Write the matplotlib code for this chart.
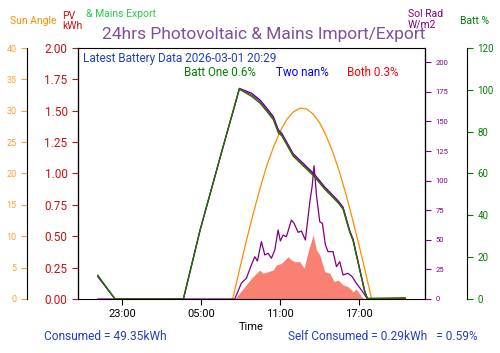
import matplotlib
matplotlib.use("Agg")
import matplotlib.pyplot as plt
import numpy as np

plt.rcParams['font.family'] = ['Roboto', 'DejaVu Sans']

# hours since midnight of day 1 (23 = 23:00, 29 = 05:00 next day ...)
batt_t = [21.16, 22.47, 27.66, 28.93, 30.67, 31.91, 32.85, 33.48, 33.99, 34.49, 34.87, 35.13,
          35.99, 37.58, 38.4, 39.4, 39.78, 40.29, 40.54, 41.05, 41.43, 41.63, 44.5]
batt_two = [10.7, 0.0, 0.0, 33.0, 72.7, 100.7, 98.3, 95.1, 91.2, 87.2, 80.8, 79.2,
            69.5, 59.8, 53.5, 47.0, 43.9, 32.6, 28.6, 14.2, 3.7, 0.2, 0.0]
batt_both = [11.0, 0.0, 0.0, 33.0, 72.7, 100.5, 97.5, 94.3, 90.4, 86.4, 80.0, 78.6,
             68.9, 59.2, 53.0, 46.5, 43.4, 32.2, 28.2, 13.9, 3.5, 0.2, 0.3]
batt_one = [11.4, 0.0, 0.0, 33.0, 72.7, 100.3, 96.8, 93.6, 89.7, 85.7, 79.3, 78.0,
            68.3, 58.6, 52.4, 46.0, 42.9, 31.8, 27.8, 13.6, 3.3, 0.3, 0.6]

sun_t = [31.4, 31.5, 32.0, 32.5, 33.0, 33.5, 34.0, 34.5, 35.0, 35.5, 36.0, 36.5, 37.0,
         37.5, 38.0, 38.5, 39.0, 39.5, 40.0, 40.5, 41.0, 41.5, 41.95]
sun_angle = [0.0, 0.9, 5.4, 9.8, 13.9, 17.8, 21.3, 24.2, 26.7, 28.6, 29.8, 30.4, 30.3,
             29.5, 28.1, 26.0, 23.4, 20.3, 16.7, 12.7, 8.5, 4.1, 0.0]

rad_t = [21.16, 31.56, 32.06, 32.44, 32.82, 33.08, 33.28, 33.58, 33.84, 34.09, 34.34, 34.6,
         34.85, 35.02, 35.23, 35.48, 35.86, 36.06, 36.37, 36.62, 36.92, 37.26, 37.43, 37.58,
         37.76, 38.01, 38.21, 38.44, 38.64, 39.02, 39.28, 39.53, 39.78, 40.16, 40.47, 40.79,
         41.17, 41.43, 41.63, 44.5]
sol_rad = [0.0, 0.0, 13.3, 17.5, 28.7, 35.7, 32.1, 48.4, 37.2, 38.6, 34.4, 41.4,
           58.3, 49.0, 54.0, 52.6, 66.7, 63.9, 56.3, 57.4, 49.8, 82.2, 94.9, 112.6,
           87.8, 65.3, 63.9, 45.6, 40.0, 40.0, 27.3, 31.5, 20.3, 21.7, 18.8, 13.3,
           7.6, 3.4, 0.0, 0.0]

pv_t = [21.16, 31.56, 32.32, 32.82, 33.46, 33.71, 34.09, 34.47, 34.72, 35.1, 35.61, 35.86,
        36.12, 36.5, 36.82, 37.13, 37.51, 37.76, 38.01, 38.39, 38.77, 39.1, 39.4, 39.78,
        40.16, 40.54, 40.79, 41.17, 41.43, 44.5]
pv_kwh = [0.0, 0.0, 0.098, 0.165, 0.231, 0.205, 0.218, 0.231, 0.271, 0.284, 0.337, 0.311,
          0.297, 0.297, 0.245, 0.377, 0.51, 0.39, 0.351, 0.218, 0.205, 0.138, 0.151, 0.112,
          0.098, 0.058, 0.08, 0.018, 0.0, 0.0]

tick_pos = [23, 29, 35, 41]
tick_lab = ['23:00', '05:00', '11:00', '17:00']

fig = plt.figure(figsize=(5, 3.53), dpi=100)
ax = fig.add_axes([0.156, 0.153, 0.694, 0.711])

# PV kWh (main axis)
ax.fill_between(pv_t, pv_kwh, color='salmon', lw=0)
ax.set_ylim(0, 2.0)
ax.set_xlim(19.66, 46.0)
ax.set_yticks(np.arange(0, 2.01, 0.25))
ax.set_yticklabels(['%.2f' % v for v in np.arange(0, 2.01, 0.25)])
ax.tick_params(axis='y', colors='#cc1111', labelsize=8.5, length=4)
ax.set_xticks(tick_pos)
ax.set_xticklabels(tick_lab)
ax.tick_params(axis='x', labelsize=8, length=4)
ax.set_xlabel('Time', fontsize=8, labelpad=2)

# Sun angle
ax_sun = ax.twinx()
ax_sun.spines['left'].set_position(('axes', -0.147))
ax_sun.spines['left'].set_visible(True)
ax_sun.yaxis.set_label_position('left')
ax_sun.yaxis.set_ticks_position('left')
ax_sun.plot(sun_t, sun_angle, color='darkorange', lw=0.9)
ax_sun.set_ylim(0, 40)
ax_sun.set_yticks(range(0, 41, 5))
ax_sun.tick_params(axis='y', colors='#ff9f3a', labelsize=6.5, length=4)

# Solar radiation
ax_rad = ax.twinx()
ax_rad.plot(rad_t, sol_rad, color='purple', lw=0.9)
ax_rad.set_ylim(0, 212)
ax_rad.set_yticks(range(0, 201, 25))
ax_rad.tick_params(axis='y', colors='purple', labelsize=5.5, length=4)

# Battery %
ax_bat = ax.twinx()
ax_bat.spines['right'].set_position(('axes', 1.121))
ax_bat.plot(batt_t, batt_two, color='blue', lw=0.9)
ax_bat.plot(batt_t, batt_both, color='red', lw=0.9)
ax_bat.plot(batt_t, batt_one, color='green', lw=0.9)
ax_bat.set_ylim(0, 120)
ax_bat.set_yticks(range(0, 121, 20))
ax_bat.tick_params(axis='y', colors='green', labelsize=7, length=4)

for a in (ax, ax_sun, ax_rad, ax_bat):
    for s in a.spines.values():
        s.set_color('black')
for a in (ax_sun, ax_rad, ax_bat):
    for s in ('top', 'bottom'):
        a.spines[s].set_visible(False)

# texts
fig.text(0.205, 0.903, '24hrs Photovoltaic & Mains Import/Export',
         color='#7f4f9f', fontsize=12.5, ha='left', va='center')
fig.text(0.02, 0.94, 'Sun Angle', color='darkorange', fontsize=7.5, va='center')
fig.text(0.124, 0.94, 'PV\nkWh', color='#cc1111', fontsize=7.5, va='center', linespacing=1.0)
fig.text(0.172, 0.96, '& Mains Export', color='#22cc44', fontsize=7.5, va='center')
fig.text(0.815, 0.945, 'Sol Rad\nW/m2', color='purple', fontsize=7.5, va='center', linespacing=1.0)
fig.text(0.92, 0.94, 'Batt %', color='green', fontsize=7.5, va='center')

ax.text(0.015, 0.958, 'Latest Battery Data 2026-03-01 20:29', transform=ax.transAxes,
        color='#2040c0', fontsize=8.5, va='center')
ax.text(0.305, 0.903, 'Batt One 0.6%', transform=ax.transAxes, color='green', fontsize=8.4, va='center')
ax.text(0.572, 0.903, 'Two nan%', transform=ax.transAxes, color='blue', fontsize=8.4, va='center')
ax.text(0.774, 0.903, 'Both 0.3%', transform=ax.transAxes, color='red', fontsize=8.4, va='center')

fig.text(0.088, 0.048, 'Consumed = 49.35kWh', color='#2040c0', fontsize=8.6, va='center')
fig.text(0.576, 0.048, 'Self Consumed = 0.29kWh   = 0.59%', color='#2040c0', fontsize=8.6, va='center')

fig.savefig('out.png', dpi=100)
